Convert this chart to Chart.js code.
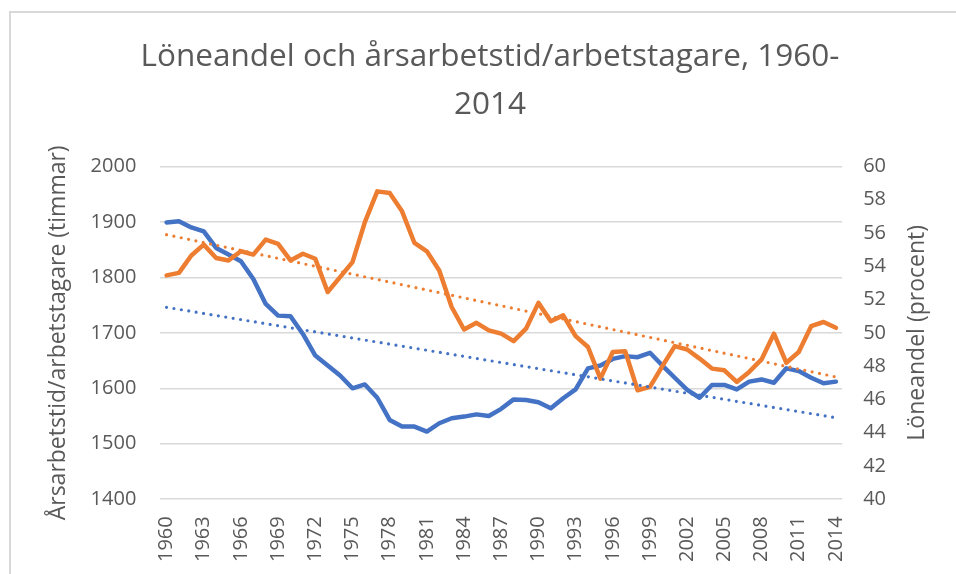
<!DOCTYPE html>
<html>
<head>
<meta charset="utf-8">
<script src="https://cdn.jsdelivr.net/npm/chart.js@4"></script>
<style>
  html, body { margin: 0; padding: 0; background: #fff; overflow: hidden; }
  #box { position: absolute; left: 9px; top: 11px; width: 1000px; height: 600px; border: 2px solid #d9d9d9; }
  #wrap { position: absolute; left: 0; top: 0; width: 956px; height: 574px; }
</style>
</head>
<body>
<div id="box"></div>
<div id="wrap"><canvas id="js--chart"></canvas></div>
<script>
// categories
const years = [];
for (let y = 1960; y <= 2014; y++) years.push(String(y));

// årsarbetstid per arbetstagare (timmar), left axis
const hours = [1899, 1901, 1890, 1883, 1853, 1841, 1829, 1797, 1752, 1731,
    1730, 1698, 1659, 1641, 1623, 1600, 1607, 1583, 1543, 1531,
    1531, 1522, 1537, 1546, 1549, 1553, 1550, 1563, 1580, 1579,
    1575, 1564, 1582, 1598, 1636, 1641, 1653, 1658, 1656, 1664,
    1641, 1619, 1597, 1583, 1606, 1606, 1598, 1612, 1616, 1610,
    1636, 1631, 1619, 1609, 1612];

// löneandel (procent), right axis
const wageShare = [53.45, 53.6, 54.65, 55.3, 54.5, 54.35, 54.9, 54.7, 55.6, 55.35,
    54.35, 54.75, 54.45, 52.45, 53.35, 54.25, 56.65, 58.5, 58.4, 57.3,
    55.4, 54.9, 53.75, 51.55, 50.2, 50.6, 50.15, 49.95, 49.5, 50.25,
    51.8, 50.7, 51.05, 49.8, 49.15, 47.25, 48.85, 48.9, 46.55, 46.75,
    48.0, 49.2, 49.0, 48.45, 47.85, 47.75, 47.05, 47.65, 48.4, 49.95,
    48.2, 48.85, 50.4, 50.65, 50.3];

// linear trend lines, end points
const trendYears = ['1960', '2014'];
const hoursTrend = [1746, 1547];
const wageTrend = [55.9, 47.35];

const hoursTicks = [1400, 2000, 100];
const wageTicks = [40, 60, 2];

const chartTitle = ['Löneandel och årsarbetstid/arbetstagare, 1960-', '2014'];
const leftTitle = 'Årsarbetstid/arbetstagare (timmar)';
const rightTitle = 'Löneandel (procent)';

const blue = '#4472C4';
const orange = '#ED7D31';
const grey = '#595959';
const font = '"Open Sans", "Noto Sans", sans-serif';

function trendPoints(values) {
    return trendYears.map(function (yr, i) { return { x: yr, y: values[i] }; });
}

// right axis title reads bottom to top, Chart.js would turn it the other way
const rightTitlePlugin = {
    id: 'rightTitle',
    afterDraw(chart) {
        const ctx = chart.ctx;
        const area = chart.chartArea;
        const scale = chart.scales.y2;
        ctx.save();
        ctx.translate(scale.right + 10, (area.top + area.bottom) / 2);
        ctx.rotate(-Math.PI / 2);
        ctx.font = '23px ' + font;
        ctx.fillStyle = grey;
        ctx.textAlign = 'center';
        ctx.textBaseline = 'middle';
        ctx.fillText(rightTitle, 0, 0);
        ctx.restore();
    }
};

const data = {
    labels: years,
    datasets: [
        {
            label: 'Trend löneandel',
            data: trendPoints(wageTrend),
            yAxisID: 'y2',
            borderColor: orange,
            borderWidth: 3.2,
            borderDash: [0, 7.5],
            borderCapStyle: 'round',
            pointRadius: 0,
            order: 0
        },
        {
            label: 'Trend årsarbetstid',
            data: trendPoints(hoursTrend),
            yAxisID: 'y',
            borderColor: blue,
            borderWidth: 3.2,
            borderDash: [0, 7.5],
            borderCapStyle: 'round',
            pointRadius: 0,
            order: 0
        },
        {
            label: 'Löneandel',
            data: wageShare,
            yAxisID: 'y2',
            borderColor: orange,
            borderWidth: 4.5,
            borderJoinStyle: 'round',
            borderCapStyle: 'round',
            pointRadius: 0,
            tension: 0,
            order: 1
        },
        {
            label: 'Årsarbetstid/arbetstagare',
            data: hours,
            yAxisID: 'y',
            borderColor: blue,
            borderWidth: 4.5,
            borderJoinStyle: 'round',
            borderCapStyle: 'round',
            pointRadius: 0,
            tension: 0,
            order: 2
        }
    ]
};

const config = {
    type: 'line',
    data: data,
    plugins: [rightTitlePlugin],
    options: {
        responsive: true,
        maintainAspectRatio: false,
        animation: false,
        // extra left padding pushes the chart title to the right, the axis title pulls back
        layout: { padding: { left: 73, right: 49, top: 11, bottom: -5 } },
        plugins: {
            legend: { display: false },
            tooltip: { enabled: false },
            title: {
                display: true,
                text: chartTitle,
                color: grey,
                font: { family: font, size: 31.5, weight: 'normal', lineHeight: 1.53 },
                padding: { top: 22, bottom: 37 }
            }
        },
        scales: {
            x: {
                offset: true,
                grid: { display: false, drawTicks: false },
                border: { display: false },
                ticks: {
                    autoSkip: false,
                    minRotation: 90,
                    maxRotation: 90,
                    padding: 17,
                    color: grey,
                    font: { family: font, size: 20 },
                    callback: function (value, index) {
                        return index % 3 === 0 ? this.getLabelForValue(value) : null;
                    }
                }
            },
            y: {
                position: 'left',
                min: hoursTicks[0],
                max: hoursTicks[1],
                grid: { color: '#d9d9d9', lineWidth: 1.6, drawTicks: false },
                border: { display: false },
                ticks: {
                    stepSize: hoursTicks[2],
                    padding: 24,
                    color: grey,
                    font: { family: font, size: 20 },
                    callback: function (value) { return String(value); }
                },
                title: {
                    display: true,
                    text: leftTitle,
                    color: grey,
                    font: { family: font, size: 23 },
                    padding: { top: -28, bottom: -6 }
                }
            },
            y2: {
                position: 'right',
                min: wageTicks[0],
                max: wageTicks[1],
                grid: { display: false, drawTicks: false },
                border: { display: false },
                ticks: {
                    stepSize: wageTicks[2],
                    padding: 21,
                    color: grey,
                    font: { family: font, size: 20 },
                    callback: function (value) { return String(value); }
                }
            }
        }
    }
};

const myChart = new Chart(document.getElementById('js--chart'), config);
</script>
</body>
</html>
